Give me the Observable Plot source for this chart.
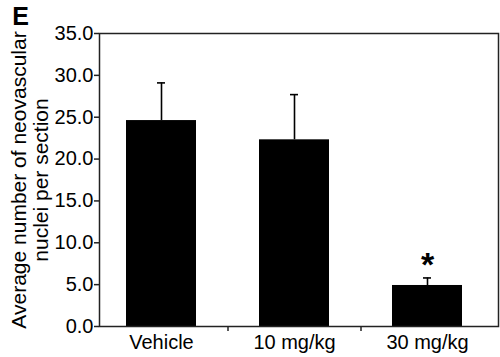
<!DOCTYPE html>
<html>
<head>
<meta charset="utf-8">
<script src="https://cdn.jsdelivr.net/npm/d3@7"></script>
<script src="https://cdn.jsdelivr.net/npm/@observablehq/plot@0.6"></script>
<style>
  html, body { margin: 0; padding: 0; background: #fff; }
  #chart { width: 500px; height: 357px; }
</style>
</head>
<body>
<div id="chart"></div>
<script>
const categories = ["Vehicle", "10 mg/kg", "30 mg/kg"];
const means = [24.6, 22.3, 4.9];
const upperErrors = [29.1, 27.7, 5.8];
const significance = ["", "", "*"];
const yTicks = [0, 5, 10, 15, 20, 25, 30, 35];
const panelLabel = "E";
const yLabel = "Average number of neovascular\nnuclei per section";

const data = categories.map((c, i) => ({
  group: c, mean: means[i], upper: upperErrors[i], sig: significance[i]
}));

const font = "Liberation Sans, Arial, Helvetica, sans-serif";

const chart = Plot.plot({
  width: 500,
  height: 357,
  marginLeft: 99,
  marginRight: 2,
  marginTop: 33,
  marginBottom: 31,
  style: { fontFamily: font, fontSize: "20px", color: "#000", background: "#fff" },
  x: { domain: categories, range: [94.5, 494.5], paddingInner: 0.47, paddingOuter: 0.235, label: null },
  y: { domain: [0, 35], label: null },
  marks: [
    Plot.barY(data, { x: "group", y: "mean", fill: "#000" }),
    Plot.ruleX(data, { x: "group", y1: "mean", y2: "upper", stroke: "#000", strokeWidth: 1.6 }),
    Plot.tickY(data, { x: "group", y: "upper", stroke: "#000", strokeWidth: 1.6, insetLeft: 31, insetRight: 31 }),
    Plot.text(data.filter(d => d.sig), { x: "group", y: "upper", text: "sig", dy: -13, fontSize: 34, fontWeight: "bold", lineAnchor: "middle" }),
    Plot.frame({ stroke: "#222", strokeWidth: 1.5 }),
    Plot.axisY(yTicks, { tickSize: 5, tickPadding: 1, tickFormat: d3.format(".1f"), fontSize: 20, stroke: "#222", strokeWidth: 1.5, label: null }),
    Plot.text([yLabel], { frameAnchor: "left", rotate: -90, dx: -70, fontSize: 21, lineHeight: 1.05, textAnchor: "middle", lineAnchor: "middle" }),
    Plot.axisX({ tickSize: 0, tickPadding: 8, fontSize: 20, label: null }),
    Plot.axisX(["10 mg/kg", "30 mg/kg"], { tickSize: 5, dx: -66.5, stroke: "#222", strokeWidth: 1.5, text: null, label: null }),
    Plot.text([panelLabel], { frameAnchor: "top-left", dx: -79, dy: -17, fontSize: 25, fontWeight: "bold", textAnchor: "middle", lineAnchor: "middle" })
  ]
});
document.getElementById("chart").appendChild(chart);
</script>
</body>
</html>
